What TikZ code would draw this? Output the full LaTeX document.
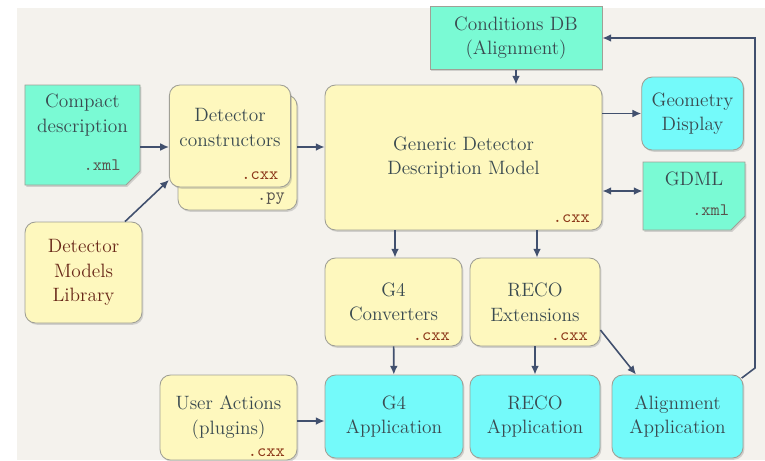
\documentclass[tikz,border=0pt]{standalone}
\usepackage{fontspec}
\usepackage{xcolor}
\usepackage{tikz}
\usetikzlibrary{positioning,shapes.misc,shadows,arrows.meta}

\definecolor{pagebg}{RGB}{244,242,237}
\definecolor{boxyellow}{RGB}{254,248,190}
\definecolor{boxteal}{RGB}{122,250,212}
\definecolor{boxcyan}{RGB}{116,250,250}
\definecolor{boxedge}{RGB}{160,160,150}
\definecolor{boxtext}{RGB}{58,74,80}
\definecolor{libtext}{RGB}{105,40,25}
\definecolor{cxxred}{RGB}{140,55,25}
\definecolor{xmlgray}{RGB}{88,84,78}
\definecolor{linkblue}{RGB}{65,80,110}

\begin{document}
\begin{tikzpicture}[inner sep=2mm, >={Latex[length=5pt,width=4.5pt]}, font=\fontsize{11}{14}\selectfont]
        \tikzset{box/.style={rectangle,rounded corners=6pt,draw=boxedge,line width=0.5pt,align=center,text=boxtext,
            drop shadow={shadow xshift=0.8pt,shadow yshift=-1pt,opacity=0.3}}};
        \tikzset{yellowbox/.style={box,fill=boxyellow}};
        \tikzset{cyanbox/.style={box,fill=boxcyan}};
        \tikzset{tealbox/.style={box,sharp corners,fill=boxteal}};
        \tikzset{xmlbox/.style={box,sharp corners,chamfered rectangle,chamfered rectangle corners=south east,
            chamfered rectangle xsep=4pt,chamfered rectangle ysep=4pt,fill=boxteal}};
        \tikzset{xmltext/.style={anchor=north,align=center,text=boxtext,inner sep=1mm}};
        \tikzset{ext/.style={anchor=south east,font=\ttfamily\fontsize{10}{12}\selectfont,text=cxxred,inner xsep=7pt,inner ysep=4pt}};
        \tikzset{xmlext/.style={ext,text=xmlgray}};
        \tikzset{link/.style={->,draw=linkblue,line width=0.9pt}};

        % page
        \useasboundingbox (0,0) rectangle (15.3,-9.2);
        \fill [white] (0,0) rectangle (15.3,-9.2);
        \fill [pagebg] (0.34,-0.16) rectangle (15.3,-9.2);

        % inputs
        \node [xmlbox,minimum width=2.3cm,minimum height=2cm] (compact) at (1.65,-2.7) {};
        \node [xmltext] (compacttext) at ([yshift=-0.08cm]compact.north) {Compact\\description};
        \node [xmlext] (compactxml) at (compact.south east) {.xml};
        \node [yellowbox,minimum width=2.38cm,minimum height=2.3cm] (ctorsback) at (4.75,-3.05) {};
        \node [xmlext,inner ysep=3pt] (ctorspy) at (ctorsback.south east) {.py};
        \node [yellowbox,minimum width=2.4cm,minimum height=2.04cm] (ctors) at (4.6,-2.72) {Detector\\constructors\\[-4pt]\mbox{}};
        \node [ext] (ctorscxx) at (ctors.south east) {.cxx};
        \node [yellowbox,text=libtext,minimum width=2.34cm,minimum height=2.02cm] (library) at (1.67,-5.45) {Detector\\Models\\Library};

        % model
        \node [tealbox,minimum width=3.44cm,minimum height=1.2cm] (conddb) at (10.32,-0.76) {Conditions DB\\(Alignment)};
        \node [yellowbox,minimum width=5.54cm,minimum height=2.9cm] (gddm) at (9.27,-3.15) {Generic Detector\\Description Model};
        \node [ext] (gddmcxx) at (gddm.south east) {.cxx};
        \node [cyanbox,minimum width=1.98cm,minimum height=1.46cm] (geodisp) at (13.85,-2.27) {Geometry\\Display};
        \node [xmlbox,minimum width=2.04cm,minimum height=1.36cm] (gdml) at (13.88,-3.92) {};
        \node [xmltext] (gdmltext) at ([yshift=-0.1cm]gdml.north) {GDML};
        \node [xmlext,inner xsep=5pt] (gdmlxml) at (gdml.south east) {.xml};

        % plugins
        \node [yellowbox,minimum width=2.74cm,minimum height=1.76cm] (g4conv) at (7.87,-6.04) {G4\\Converters};
        \node [ext,inner ysep=3pt] (g4convcxx) at (g4conv.south east) {.cxx};
        \node [yellowbox,minimum width=2.6cm,minimum height=1.76cm] (recoext) at (10.7,-6.04) {RECO\\Extensions};
        \node [ext,inner ysep=3pt] (recoextcxx) at (recoext.south east) {.cxx};

        % applications
        \node [yellowbox,minimum width=2.74cm,minimum height=1.7cm] (useract) at (4.57,-8.35) {User Actions\\(plugins)};
        \node [ext,inner ysep=2pt] (useractcxx) at (useract.south east) {.cxx};
        \node [cyanbox,minimum width=2.76cm,minimum height=1.66cm] (g4app) at (7.88,-8.33) {G4\\Application};
        \node [cyanbox,minimum width=2.6cm,minimum height=1.66cm] (recoapp) at (10.7,-8.33) {RECO\\Application};
        \node [cyanbox,minimum width=2.62cm,minimum height=1.66cm] (alignapp) at (13.55,-8.33) {Alignment\\Application};

        \coordinate (loopturn) at (15.1,-7.36);

        \draw [link] ([yshift=-0.24cm]compact.east) -- ([yshift=-0.24cm]compact.east -| ctors.west);
        \draw [link] ([xshift=0.83cm]library.north) -- ([yshift=-0.88cm]ctors.west);
        \draw [link] ([yshift=0.21cm]gddm.west -| ctorsback.east) -- ([yshift=0.21cm]gddm.west);
        \draw [link] (conddb.south) -- (conddb.south |- gddm.north);
        \draw [link] (gddm.east |- geodisp.west) -- (geodisp.west);
        \draw [link,<->] ([yshift=0.1cm]gdml.west -| gddm.east) -- ([yshift=0.1cm]gdml.west);
        \draw [link] ([xshift=0.03cm]gddm.south -| g4conv.north) -- ([xshift=0.03cm]g4conv.north);
        \draw [link] ([xshift=0.04cm]gddm.south -| recoext.north) -- ([xshift=0.04cm]recoext.north);
        \draw [link] (g4conv) -- (g4app);
        \draw [link] (recoext) -- (recoapp);
        \draw [link] ([yshift=-0.56cm]recoext.east) -- ([xshift=-0.83cm]alignapp.north);
        \draw [link] ([yshift=-0.07cm]useract.east) -- ([yshift=-0.07cm]useract.east -| g4app.west);
        \draw [link] ([shift={(-1pt,-2pt)}]alignapp.north east) -- (loopturn) |- (conddb.east);
    \end{tikzpicture}
\end{document}
